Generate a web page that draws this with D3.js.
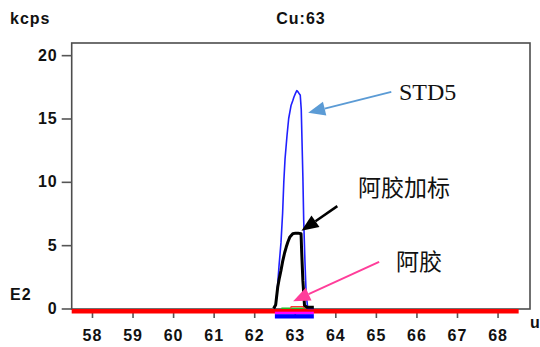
<!DOCTYPE html>
<html>
<head>
<meta charset="utf-8">
<script src="https://cdn.jsdelivr.net/npm/d3@7"></script>
<style>
  html, body { margin: 0; padding: 0; background: #fff; }
  svg { display: block; }
</style>
</head>
<body>
<svg id="chart" width="540" height="347"></svg>
<script>
// Cu 63 mass scan: intensity (kcps) against mass (u)
const xTicks = [58, 59, 60, 61, 62, 63, 64, 65, 66, 67, 68];
const yTicks = [0, 5, 10, 15, 20];

// STD5 standard
const stdMass = [62.50, 62.53, 62.57, 62.61, 62.66, 62.70, 62.73, 62.76, 62.81, 62.85, 62.91, 62.95,
                 62.98, 63.02, 63.05, 63.08, 63.12, 63.135, 63.16, 63.20, 63.22, 63.25, 63.28, 63.32, 63.47];
const stdKcps = [0, 0.3, 1.5, 3.3, 5.2, 7.5, 10.0, 11.8, 13.7, 15.0, 16.05, 16.4,
                 16.7, 17.0, 17.2, 17.1, 16.9, 16.85, 15.7, 10.4, 7.0, 3.8, 1.2, 0, 0];

// spiked sample (阿胶加标)
const spikeMass = [62.48, 62.53, 62.58, 62.62, 62.66, 62.70, 62.75, 62.79, 62.83, 62.88, 62.95,
                   63.02, 63.08, 63.155, 63.17, 63.20, 63.24, 63.30, 63.47];
const spikeKcps = [0, 0.3, 1.7, 2.4, 3.0, 3.7, 4.4, 4.85, 5.25, 5.65, 5.9,
                   5.95, 5.95, 5.9, 4.5, 2.2, 0.25, 0.1, 0.1];

// sample (阿胶)
const sampleMass = [62.90, 62.91, 63.22, 63.23];
const sampleKcps = [0, 0.14, 0.14, 0];

// blank trace
const blankMass = [62.67, 63.25];
const blankKcps = [0.02, 0.02];

// scan range and integration window
const scanRange = [57.5, 68.52];
const peakWindow = [62.51, 63.47];

// annotations: arrow tip/tail in data units, label text
const notes = [
  { text: "STD5",     tip: [63.33, 15.45], tail: [65.38, 17.1], color: "#5b9bd5", width: 2,   lx: 399, ly: 92,  serif: true },
  { text: "阿胶加标", tip: [63.165, 6.13], tail: [64.05, 8.08], color: "#000000", width: 2.5, lx: 358, ly: 188, serif: false },
  { text: "阿胶",     tip: [62.96, 0.58],  tail: [65.08, 3.68], color: "#ff3d9a", width: 2,   lx: 396, ly: 262, serif: false }
];

const frame = { left: 71.7, right: 530, top: 43, bottom: 309 };
const svg = d3.select("#chart");
svg.append("rect").attr("width", 540).attr("height", 347).attr("fill", "#fff");

const x = d3.scaleLinear().domain([57.5, 68.8]).range([frame.left, frame.right]);
const y = d3.scaleLinear().domain([-0.04, 20.96]).range([frame.bottom, frame.top]);

const axisFont = "'Liberation Sans', Arial, sans-serif";

// plot frame
svg.append("rect")
  .attr("x", frame.left).attr("y", frame.top)
  .attr("width", frame.right - frame.left).attr("height", frame.bottom - frame.top)
  .attr("fill", "none").attr("stroke", "#4d4d4d").attr("stroke-width", 1.6);

// y axis
const gy = svg.append("g")
  .attr("transform", `translate(${frame.left},0)`)
  .call(d3.axisLeft(y).tickValues(yTicks).tickSize(10).tickPadding(4));
gy.select(".domain").remove();

// x axis
const gx = svg.append("g")
  .attr("transform", `translate(0,${frame.bottom})`)
  .call(d3.axisBottom(x).tickValues(xTicks).tickSize(9));
gx.select(".domain").remove();
gx.selectAll("text").attr("y", 26).attr("dy", "0.35em");

[gx, gy].forEach(g => {
  g.selectAll(".tick line").attr("stroke", "#555").attr("stroke-width", 1.6);
  g.selectAll(".tick text")
    .attr("fill", "#111")
    .style("font-family", axisFont)
    .style("font-size", "16px")
    .style("font-weight", "bold")
    .style("letter-spacing", "1px");
});

// scan range bar and integration window bars below the axis
svg.append("rect")
  .attr("x", x(scanRange[0])).attr("y", frame.bottom)
  .attr("width", x(scanRange[1]) - x(scanRange[0])).attr("height", 4.5)
  .attr("fill", "#ff0000");
svg.append("rect")
  .attr("x", x(peakWindow[0])).attr("y", frame.bottom + 2.7)
  .attr("width", x(peakWindow[1]) - x(peakWindow[0])).attr("height", 2.6)
  .attr("fill", "#ff00ff");
svg.append("rect")
  .attr("x", x(peakWindow[0])).attr("y", frame.bottom + 5.2)
  .attr("width", x(peakWindow[1]) - x(peakWindow[0])).attr("height", 4.3)
  .attr("fill", "#0000ff");

// traces
const line = d3.line().x(d => x(d[0])).y(d => y(d[1]));
const trace = (ms, vs, color, w) =>
  svg.append("path")
    .attr("d", line(d3.zip(ms, vs)))
    .attr("fill", "none").attr("stroke", color).attr("stroke-width", w)
    .attr("stroke-linejoin", "round");

trace(blankMass, blankKcps, "#22bb22", 1.5);
trace(sampleMass, sampleKcps, "#ff3333", 1.3);
trace(stdMass, stdKcps, "#2020ff", 1.6);
trace(spikeMass, spikeKcps, "#000000", 3);

// annotation arrows and labels
notes.forEach(n => {
  const tx = x(n.tip[0]), ty = y(n.tip[1]);
  const sx = x(n.tail[0]), sy = y(n.tail[1]);
  const ang = Math.atan2(ty - sy, tx - sx);
  const hl = 17, hw = 7;
  const bx = tx - hl * Math.cos(ang), by = ty - hl * Math.sin(ang);
  svg.append("line")
    .attr("x1", sx).attr("y1", sy).attr("x2", bx).attr("y2", by)
    .attr("stroke", n.color).attr("stroke-width", n.width);
  const px = -Math.sin(ang), py = Math.cos(ang);
  svg.append("polygon")
    .attr("points", [[tx, ty], [bx + px * hw, by + py * hw], [bx - px * hw, by - py * hw]].map(p => p.join(",")).join(" "))
    .attr("fill", n.color);
  svg.append("text")
    .attr("x", n.lx).attr("y", n.ly).attr("dy", "0.35em")
    .attr("fill", "#111")
    .style("font-family", n.serif ? "'Liberation Serif', 'Times New Roman', serif" : "'Noto Sans CJK SC', sans-serif")
    .style("font-size", n.serif ? "24px" : "23px")
    .text(n.text);
});

// titles and unit labels
const label = (t, xp, yp, anchor, spacing) =>
  svg.append("text")
    .attr("x", xp).attr("y", yp).attr("dy", "0.35em")
    .attr("text-anchor", anchor)
    .attr("fill", "#111")
    .style("font-family", axisFont)
    .style("font-size", "16px")
    .style("font-weight", "bold")
    .style("letter-spacing", spacing)
    .text(t);

label("kcps", 10, 18, "start", "1px");
label("Cu:63", 301, 18, "middle", "1px");
label("E2", 10, 294, "start", "1px");
label("u", 530, 322, "start", "0px");
</script>
</body>
</html>
